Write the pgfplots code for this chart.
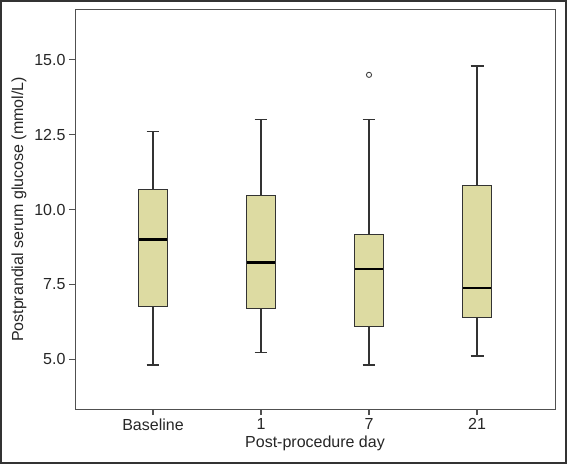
\documentclass[border=0pt]{standalone}
\usepackage{pgfplots}
\pgfplotsset{compat=1.18}
\usepgfplotslibrary{statistics}
\usepackage{fontspec}
\setmainfont{Liberation Sans}
\definecolor{boxfill}{RGB}{221,219,162}
\definecolor{frm}{RGB}{80,80,80}
\begin{document}
\begin{tikzpicture}
\path (0pt,0pt) rectangle (567pt,464pt);
\draw[line width=1.6pt, black!80] (0.8pt,0.8pt) rectangle (566.2pt,463.2pt);
\begin{axis}[
  at={(75pt,55pt)}, anchor=south west,
  scale only axis, width=480pt, height=399pt,
  xmin=-0.722, xmax=3.722, ymin=3.333, ymax=16.667,
  clip=false,
  xtick={0,1,2,3}, xticklabels={Baseline,1,7,21},
  ytick={5,7.5,10,12.5,15},
  yticklabel style={/pgf/number format/fixed, /pgf/number format/fixed zerofill, /pgf/number format/precision=1},
  yticklabel={\pgfmathprintnumber[assume math mode=true]{\tick}},
  xtick align=outside, ytick align=outside,
  xtick pos=bottom, ytick pos=left,
  major tick length=6pt,
  every tick/.append style={color=frm, line width=1.1pt},
  axis line style={draw=frm, line width=1pt},
  ticklabel style={font=\fontsize{16}{18}\selectfont, text=black!85},
  label style={font=\fontsize{16}{18}\selectfont, text=black!85},
  xlabel={Post-procedure day},
  ylabel={Postprandial serum glucose (mmol/L)},
  xlabel style={yshift=1pt},
  ylabel style={yshift=1pt},
  boxplot/draw direction=y,
  boxplot/box extend=0.26,
  boxplot/whisker extend=0.12,
  boxplot/every box/.style={draw=black!80, fill=boxfill, line width=1pt},
  boxplot/every whisker/.style={draw=black!80, line width=1.3pt},
  boxplot/every median/.style={draw=black, line width=2.2pt},
]
\addplot+[boxplot prepared={draw position=0, lower whisker=4.8, lower quartile=6.77, median=9.0, upper quartile=10.67, upper whisker=12.6}, draw=black!80, mark=none] coordinates {};
\addplot+[boxplot prepared={draw position=1, lower whisker=5.23, lower quartile=6.7, median=8.23, upper quartile=10.47, upper whisker=13.0}, draw=black!80, mark=none] coordinates {};
\addplot+[boxplot prepared={draw position=2, lower whisker=4.8, lower quartile=6.1, median=8.0, upper quartile=9.17, upper whisker=13.0}, draw=black!80, mark=none] coordinates {};
\addplot+[boxplot prepared={draw position=3, lower whisker=5.1, lower quartile=6.4, median=7.37, upper quartile=10.8, upper whisker=14.8}, draw=black!80, mark=none] coordinates {};
\addplot[only marks, mark=o, mark size=2.6pt, black!75, line width=0.9pt] coordinates {(2,14.5)};
\pgfplotsinvokeforeach{5,7.5,10,12.5,15}{
  \draw[frm, line width=1.1pt] (axis cs:-0.722,#1) -- ++(-6pt,0pt);
}
\pgfplotsinvokeforeach{0,1,2,3}{
  \draw[frm, line width=1.1pt] (axis cs:#1,3.333) -- ++(0pt,-6pt);
}
\end{axis}
\end{tikzpicture}
\end{document}
